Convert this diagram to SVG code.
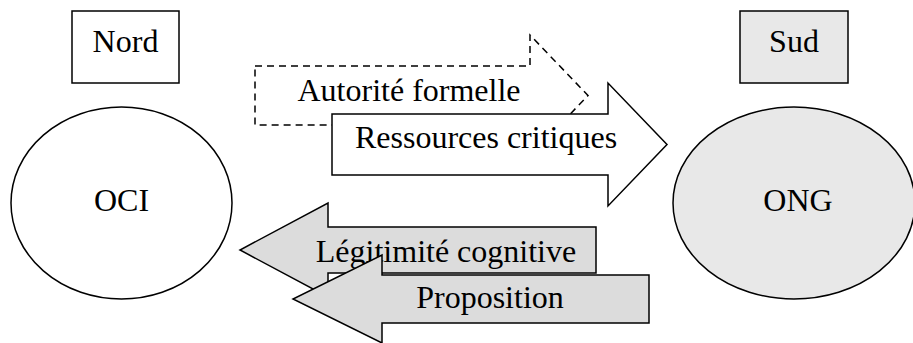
<svg xmlns="http://www.w3.org/2000/svg" width="913" height="343" viewBox="0 0 913 343">
<style>
text{font-size:32px;fill:#000;text-anchor:middle}
.s{stroke:#000;stroke-width:1.5}
.w{fill:#fff}
.g{fill:#e8e8e8}
.d{fill:#dcdcdc}
.dash{fill:none;stroke:#000;stroke-width:1.5;stroke-dasharray:7,5}
</style>
<rect width="913" height="343" fill="#fff"/>
<g font-family="'Liberation Serif', 'Times New Roman', 'DejaVu Serif', serif">
<g id="nord"><rect class="s w" x="72" y="11" width="107" height="72"/><text x="125.5" y="52">Nord</text></g>
<g id="sud"><rect class="s g" x="740" y="11" width="108" height="72"/><text x="794" y="52">Sud</text></g>
<g id="oci"><ellipse class="s w" cx="121.5" cy="203" rx="110.5" ry="96"/><text x="121.5" y="211">OCI</text></g>
<g id="ong"><ellipse class="s g" cx="794" cy="203" rx="121" ry="96"/><text x="798" y="211">ONG</text></g>
<g id="connectors">
<g id="autorite"><path class="dash" d="M255,66 H530 V35 L588,95.5 L530,156 V125 H255 Z"/><text x="409" y="101">Autorité formelle</text></g>
<g id="ressources"><path class="s w" d="M332,114 H608 V83 L667,144.5 L608,206 V175 H332 Z"/><text x="486" y="148">Ressources critiques</text></g>
<g id="legitimite"><path class="s d" d="M596,227 H328 V203 L240,250 L328,297 V273 H596 Z"/><text x="446" y="262">Légitimité cognitive</text></g>
<g id="proposition"><path class="s d" d="M649,275 H382 V255 L293,299 L382,343 V323 H649 Z"/><text x="490" y="308">Proposition</text></g>
</g>
</g>
</svg>
